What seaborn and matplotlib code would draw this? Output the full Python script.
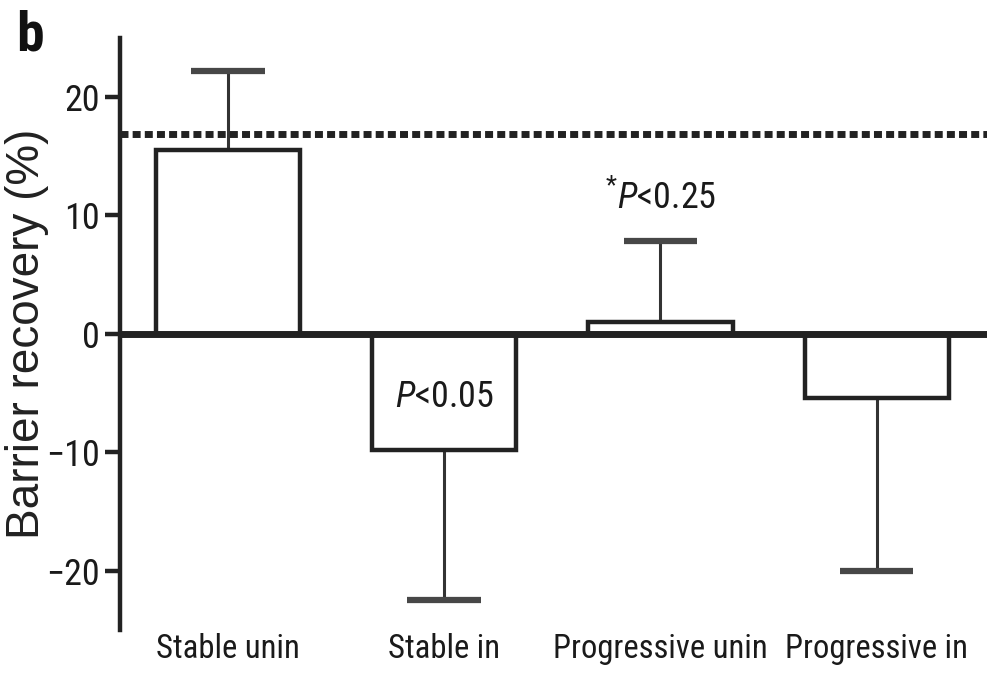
import matplotlib
matplotlib.use("Agg")
import matplotlib.pyplot as plt
import seaborn as sns
import numpy as np
import pandas as pd

groups = ["Stable unin", "Stable in", "Progressive unin", "Progressive in"]
means = [15.5, -9.8, 1.0, -5.4]
errs = [6.7, 12.7, 6.8, 14.6]
reference_level = 16.9
p_labels = ["", "$\\it{P}$<0.05", "$^{*}$$\\it{P}$<0.25", ""]
p_label_y = [0, -5.3, 11.5, 0]

sns.set_style("ticks")
plt.rcParams["font.family"] = ["Roboto Condensed", "Liberation Sans", "DejaVu Sans"]
plt.rcParams["mathtext.fontset"] = "custom"
plt.rcParams["mathtext.rm"] = "Roboto Condensed"
plt.rcParams["mathtext.it"] = "Roboto Condensed:italic"

df = pd.DataFrame({"group": groups, "recovery": means})

fig = plt.figure(figsize=(9.89, 6.77), dpi=100)
ax = fig.add_axes([0.121, 0.0694, 0.877, 0.875])

ink = "#222222"

sns.barplot(data=df, x="group", y="recovery", ax=ax, width=0.667,
            color="white", edgecolor=ink, linewidth=3.2, errorbar=None, zorder=2)
for patch in ax.patches:
    patch.set_facecolor("white")
    patch.set_edgecolor(ink)

# one-sided error bars, drawn away from zero
xs = np.arange(len(groups))
m = np.array(means)
tips = m + np.sign(m) * np.array(errs)
ax.vlines(xs, m, tips, color="#333333", lw=2.2, zorder=1)
ax.hlines(tips, xs - 0.17, xs + 0.17, color="#474747", lw=4.5, zorder=1)

ax.axhline(0, color=ink, lw=5, zorder=3)
ax.axhline(reference_level, color=ink, lw=5, ls=(0, (1.15, 0.6)), zorder=3)

# significance annotations
for i, lab in enumerate(p_labels):
    if lab:
        ax.text(i, p_label_y[i], lab, ha="center", va="center", fontsize=26, color="#1a1a1a")

ax.set_xlim(-0.5, 3.51)
ax.set_ylim(-25, 25)
ax.set_yticks([-20, -10, 0, 10, 20])
ax.set_yticklabels(["\u221220", "\u221210", "0", "10", "20"])
ax.set_xlabel("")
ax.set_ylabel("Barrier recovery (%)", fontsize=33, color="#222",
              family=["Liberation Sans", "DejaVu Sans"])
ax.yaxis.set_label_coords(-0.082, 0.5)

sns.despine(ax=ax, bottom=True)
ax.spines["left"].set_linewidth(3.2)
ax.spines["left"].set_color(ink)
ax.spines["left"].set_zorder(4)
ax.tick_params(axis="y", length=11, width=3.2, color=ink, labelsize=26, pad=3, labelcolor="#1a1a1a")
ax.tick_params(axis="x", length=0, labelsize=23.5, pad=2, labelcolor="#1a1a1a")

fig.text(0.016, 0.925, "b", fontsize=40, fontweight="bold", color="#111",
         family=["Roboto Condensed", "Liberation Sans"])

fig.savefig("out.png", dpi=100)
